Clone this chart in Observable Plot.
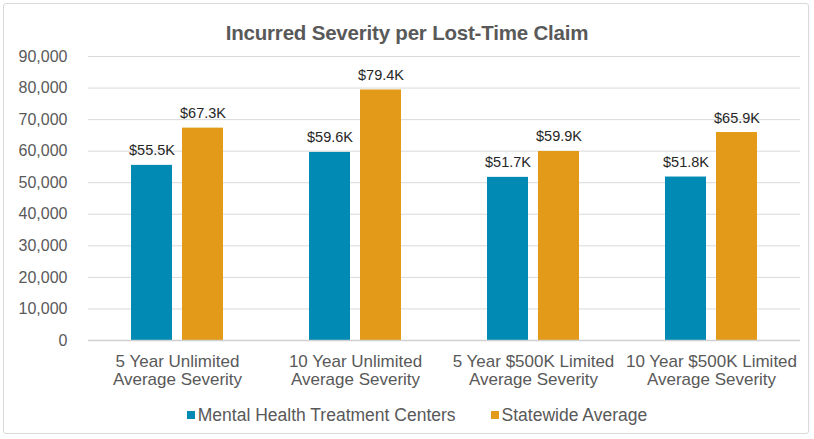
<!DOCTYPE html>
<html>
<head>
<meta charset="utf-8">
<script src="https://cdn.jsdelivr.net/npm/d3@7"></script>
<script src="https://cdn.jsdelivr.net/npm/@observablehq/plot@0.6"></script>
<style>
  html, body { margin: 0; padding: 0; background: #fff; }
  #wrap { position: relative; width: 814px; height: 439px; overflow: hidden; font-family: "Liberation Sans", Arial, sans-serif; }
  #frame { position: absolute; left: 3px; top: 3px; width: 806px; height: 431px; border: 1px solid #d9d9d9; border-radius: 3px; box-sizing: border-box; }
  #title { position: relative; height: 46px; box-sizing: border-box; padding-top: 21px; line-height: 24px; text-align: center; font-weight: bold; font-size: 20.5px; color: #595959; letter-spacing: -0.2px; }
  #chart { position: relative; height: 350px; }
  #chart svg { display: block; }
  #legend { position: relative; display: flex; justify-content: center; gap: 35px; padding-top: 9px; line-height: 20px; font-size: 17.5px; color: #595959; padding-left: 20px; }
  .item { display: flex; align-items: center; }
  .sw { width: 8px; height: 8px; margin-right: 3px; }
</style>
</head>
<body>
<div id="wrap">
  <div id="frame"></div>
  <div id="title">Incurred Severity per Lost-Time Claim</div>
  <div id="chart"></div>
  <div id="legend"></div>
</div>
<script>
const categories = ["5 Year Unlimited\nAverage Severity", "10 Year Unlimited\nAverage Severity", "5 Year $500K Limited\nAverage Severity", "10 Year $500K Limited\nAverage Severity"];
const seriesNames = ["Mental Health Treatment Centers", "Statewide Average"];
const mentalHealth = [55500, 59600, 51700, 51800];
const statewide = [67300, 79400, 59900, 65900];
const yTicks = [0, 10000, 20000, 30000, 40000, 50000, 60000, 70000, 80000, 90000];
const colors = ["#008ab4", "#e39a18"];

const data = [];
categories.forEach((c, i) => {
  data.push({category: c, series: seriesNames[0], value: mentalHealth[i]});
  data.push({category: c, series: seriesNames[1], value: statewide[i]});
});

const chart = Plot.plot({
  width: 814,
  height: 350,
  marginLeft: 88,
  marginRight: 14,
  marginTop: 10,
  marginBottom: 56,
  style: {fontFamily: "'Liberation Sans', Arial, sans-serif", color: "#595959", background: "transparent"},
  fx: {domain: categories, padding: 0, label: null},
  x: {domain: seriesNames, paddingInner: 0.2, paddingOuter: 0.845, axis: null},
  y: {domain: [0, 90000], ticks: yTicks, label: null},
  color: {domain: seriesNames, range: colors},
  marks: [
    Plot.gridY(yTicks, {stroke: "#d9d9d9", strokeOpacity: 1, strokeWidth: 1}),
    Plot.axisY(yTicks, {tickSize: 0, tickPadding: 21, tickFormat: d3.format(","), fontSize: 16, fill: "#595959", label: null}),
    Plot.axisFx({tickSize: 0, tickPadding: 13, fontSize: 17, fill: "#595959", lineHeight: 1.08, label: null, anchor: "bottom"}),
    Plot.barY(data, {fx: "category", x: "series", y: "value", fill: "series"}),
    Plot.ruleY([0], {stroke: "#d0d0d0", strokeWidth: 1.5}),
    Plot.text(data, {fx: "category", x: "series", y: "value", text: d => "$" + (d.value / 1000).toFixed(1) + "K", lineAnchor: "bottom", dy: -10, fontSize: 14.5, fill: "#262626"})
  ]
});
document.getElementById("chart").appendChild(chart);

const legend = document.getElementById("legend");
seriesNames.forEach((s, i) => {
  const it = document.createElement("div");
  it.className = "item";
  const sw = document.createElement("div");
  sw.className = "sw";
  sw.style.background = colors[i];
  const t = document.createElement("span");
  t.textContent = s;
  it.appendChild(sw);
  it.appendChild(t);
  legend.appendChild(it);
});
</script>
</body>
</html>
